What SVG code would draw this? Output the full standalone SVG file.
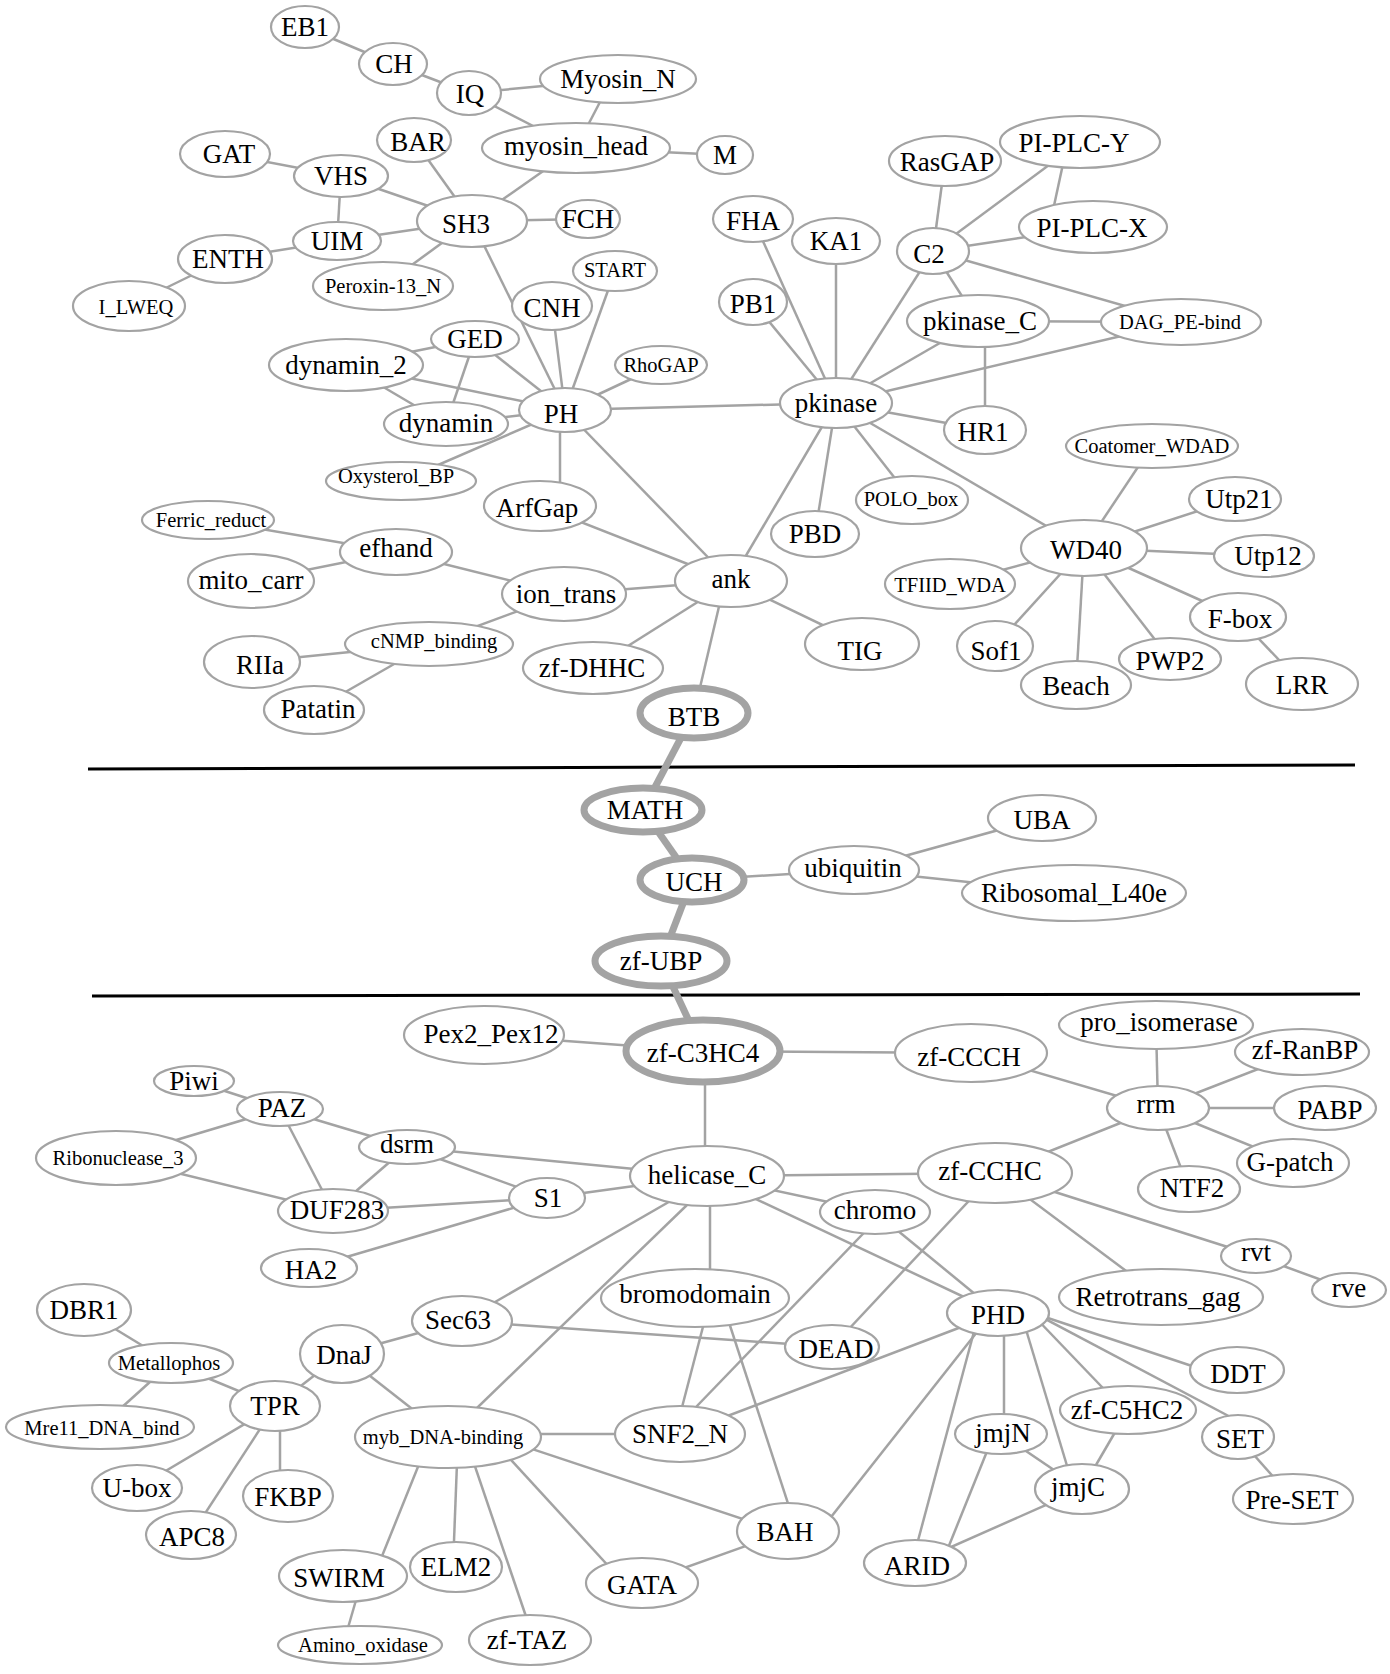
<svg xmlns="http://www.w3.org/2000/svg" width="1390" height="1674" viewBox="0 0 1390 1674">
<style>
.bg{fill:#fff}
.n ellipse{fill:#fff;stroke:#a3a3a3;stroke-width:2.2}
.k ellipse{stroke-width:7}
.n text{font-family:"Liberation Serif","Times New Roman",serif;font-size:27px;fill:#000;text-anchor:middle;dominant-baseline:central}
.n text.sm{font-size:20.5px}
#edges line{stroke:#a3a3a3;stroke-width:2.5;fill:none}
#edges line.thick{stroke-width:7}
#separators line{stroke:#000;stroke-width:3}
</style>
<rect class="bg" x="0" y="0" width="1390" height="1674"/>
<g id="separators">
<line x1="88" y1="769" x2="1355" y2="765"/>
<line x1="92" y1="996" x2="1360" y2="994"/>
</g>
<g id="edges">
<line x1="305" y1="27" x2="393" y2="64"/>
<line x1="393" y1="64" x2="469" y2="93"/>
<line x1="469" y1="93" x2="618" y2="79"/>
<line x1="469" y1="93" x2="576" y2="148"/>
<line x1="612" y1="79" x2="576" y2="148"/>
<line x1="576" y1="148" x2="725" y2="155"/>
<line x1="576" y1="148" x2="472" y2="221"/>
<line x1="225" y1="154" x2="341" y2="176"/>
<line x1="341" y1="176" x2="472" y2="221"/>
<line x1="341" y1="176" x2="337" y2="241"/>
<line x1="337" y1="241" x2="472" y2="221"/>
<line x1="337" y1="241" x2="225" y2="259"/>
<line x1="225" y1="259" x2="129" y2="306"/>
<line x1="414" y1="140" x2="472" y2="221"/>
<line x1="472" y1="221" x2="588" y2="219"/>
<line x1="472" y1="221" x2="383" y2="286"/>
<line x1="472" y1="221" x2="565" y2="410"/>
<line x1="615" y1="271" x2="565" y2="410"/>
<line x1="552" y1="306" x2="565" y2="410"/>
<line x1="475" y1="339" x2="565" y2="410"/>
<line x1="475" y1="339" x2="346" y2="365"/>
<line x1="475" y1="339" x2="446" y2="424"/>
<line x1="346" y1="365" x2="565" y2="410"/>
<line x1="346" y1="365" x2="446" y2="424"/>
<line x1="446" y1="424" x2="565" y2="410"/>
<line x1="661" y1="365" x2="565" y2="410"/>
<line x1="401" y1="481" x2="565" y2="410"/>
<line x1="560" y1="415" x2="560" y2="495"/>
<line x1="565" y1="410" x2="836" y2="403"/>
<line x1="565" y1="410" x2="731" y2="581"/>
<line x1="540" y1="506" x2="731" y2="581"/>
<line x1="208" y1="520" x2="396" y2="552"/>
<line x1="251" y1="581" x2="396" y2="552"/>
<line x1="396" y1="552" x2="564" y2="594"/>
<line x1="564" y1="594" x2="731" y2="581"/>
<line x1="564" y1="594" x2="429" y2="644"/>
<line x1="429" y1="644" x2="252" y2="662"/>
<line x1="429" y1="644" x2="314" y2="710"/>
<line x1="593" y1="668" x2="731" y2="581"/>
<line x1="731" y1="581" x2="862" y2="644"/>
<line x1="725" y1="581" x2="694" y2="713"/>
<line x1="731" y1="581" x2="836" y2="403"/>
<line x1="836" y1="403" x2="753" y2="219"/>
<line x1="836" y1="403" x2="836" y2="241"/>
<line x1="836" y1="403" x2="753" y2="302"/>
<line x1="836" y1="403" x2="933" y2="251"/>
<line x1="836" y1="403" x2="978" y2="321"/>
<line x1="836" y1="403" x2="1181" y2="322"/>
<line x1="836" y1="403" x2="985" y2="430"/>
<line x1="836" y1="403" x2="912" y2="500"/>
<line x1="836" y1="403" x2="815" y2="534"/>
<line x1="836" y1="403" x2="1084" y2="548"/>
<line x1="933" y1="251" x2="945" y2="161"/>
<line x1="933" y1="251" x2="1080" y2="142"/>
<line x1="933" y1="251" x2="1093" y2="227"/>
<line x1="1066" y1="150" x2="1052" y2="215"/>
<line x1="933" y1="251" x2="978" y2="321"/>
<line x1="933" y1="251" x2="1181" y2="322"/>
<line x1="978" y1="321" x2="1181" y2="322"/>
<line x1="985" y1="321" x2="985" y2="430"/>
<line x1="1084" y1="548" x2="1152" y2="446"/>
<line x1="1084" y1="548" x2="1235" y2="499"/>
<line x1="1084" y1="548" x2="1264" y2="556"/>
<line x1="1084" y1="548" x2="950" y2="584"/>
<line x1="1084" y1="548" x2="995" y2="646"/>
<line x1="1084" y1="548" x2="1076" y2="685"/>
<line x1="1084" y1="548" x2="1170" y2="659"/>
<line x1="1084" y1="548" x2="1238" y2="617"/>
<line x1="1238" y1="617" x2="1302" y2="684"/>
<line class="thick" x1="694" y1="713" x2="643" y2="810"/>
<line class="thick" x1="643" y1="810" x2="692" y2="880"/>
<line class="thick" x1="692" y1="880" x2="661" y2="961"/>
<line class="thick" x1="661" y1="961" x2="703" y2="1051"/>
<line x1="692" y1="880" x2="854" y2="870"/>
<line x1="854" y1="870" x2="1042" y2="818"/>
<line x1="854" y1="870" x2="1074" y2="893"/>
<line x1="484" y1="1035" x2="703" y2="1051"/>
<line x1="703" y1="1051" x2="971" y2="1053"/>
<line x1="705" y1="1051" x2="705" y2="1176"/>
<line x1="971" y1="1053" x2="1158" y2="1108"/>
<line x1="1156" y1="1025" x2="1158" y2="1108"/>
<line x1="1302" y1="1052" x2="1158" y2="1108"/>
<line x1="1158" y1="1108" x2="1325" y2="1108"/>
<line x1="1158" y1="1108" x2="1293" y2="1163"/>
<line x1="1158" y1="1108" x2="1189" y2="1189"/>
<line x1="1158" y1="1108" x2="995" y2="1173"/>
<line x1="707" y1="1176" x2="995" y2="1173"/>
<line x1="707" y1="1176" x2="875" y2="1212"/>
<line x1="707" y1="1176" x2="998" y2="1313"/>
<line x1="710" y1="1176" x2="710" y2="1298"/>
<line x1="707" y1="1176" x2="547" y2="1198"/>
<line x1="707" y1="1176" x2="407" y2="1147"/>
<line x1="700" y1="1184" x2="462" y2="1321"/>
<line x1="717" y1="1176" x2="447" y2="1437"/>
<line x1="194" y1="1081" x2="280" y2="1109"/>
<line x1="280" y1="1109" x2="116" y2="1158"/>
<line x1="280" y1="1109" x2="333" y2="1211"/>
<line x1="280" y1="1109" x2="407" y2="1147"/>
<line x1="116" y1="1158" x2="333" y2="1211"/>
<line x1="407" y1="1147" x2="333" y2="1211"/>
<line x1="407" y1="1147" x2="547" y2="1198"/>
<line x1="333" y1="1211" x2="547" y2="1198"/>
<line x1="309" y1="1268" x2="547" y2="1198"/>
<line x1="995" y1="1173" x2="832" y2="1347"/>
<line x1="995" y1="1173" x2="1161" y2="1297"/>
<line x1="995" y1="1173" x2="1256" y2="1256"/>
<line x1="1256" y1="1256" x2="1349" y2="1290"/>
<line x1="875" y1="1212" x2="998" y2="1313"/>
<line x1="884" y1="1212" x2="670" y2="1434"/>
<line x1="710" y1="1300" x2="675" y2="1434"/>
<line x1="721" y1="1298" x2="797" y2="1531"/>
<line x1="462" y1="1321" x2="832" y2="1347"/>
<line x1="462" y1="1321" x2="342" y2="1354"/>
<line x1="342" y1="1354" x2="275" y2="1406"/>
<line x1="342" y1="1354" x2="448" y2="1437"/>
<line x1="84" y1="1310" x2="171" y2="1363"/>
<line x1="171" y1="1363" x2="275" y2="1406"/>
<line x1="171" y1="1363" x2="100" y2="1427"/>
<line x1="275" y1="1406" x2="137" y2="1488"/>
<line x1="275" y1="1406" x2="191" y2="1535"/>
<line x1="280" y1="1406" x2="280" y2="1496"/>
<line x1="448" y1="1434" x2="680" y2="1434"/>
<line x1="460" y1="1425" x2="788" y2="1534"/>
<line x1="430" y1="1437" x2="374" y2="1576"/>
<line x1="458" y1="1437" x2="453" y2="1567"/>
<line x1="465" y1="1437" x2="534" y2="1640"/>
<line x1="490" y1="1437" x2="624" y2="1583"/>
<line x1="363" y1="1576" x2="343" y2="1645"/>
<line x1="642" y1="1583" x2="788" y2="1531"/>
<line x1="998" y1="1313" x2="680" y2="1434"/>
<line x1="992" y1="1313" x2="820" y2="1531"/>
<line x1="979" y1="1313" x2="912" y2="1563"/>
<line x1="1004" y1="1313" x2="1004" y2="1434"/>
<line x1="1021" y1="1313" x2="1074" y2="1489"/>
<line x1="1031" y1="1313" x2="1124" y2="1410"/>
<line x1="1000" y1="1295" x2="1238" y2="1421"/>
<line x1="1000" y1="1302" x2="1237" y2="1381"/>
<line x1="1001" y1="1434" x2="1082" y2="1489"/>
<line x1="994" y1="1434" x2="942" y2="1563"/>
<line x1="1082" y1="1489" x2="915" y2="1563"/>
<line x1="1128" y1="1410" x2="1082" y2="1489"/>
<line x1="1238" y1="1437" x2="1293" y2="1499"/>
</g>
<g id="n-EB1" class="n"><ellipse cx="305" cy="27" rx="34" ry="21"/><text x="305" y="27">EB1</text></g>
<g id="n-CH" class="n"><ellipse cx="393" cy="64" rx="34" ry="21"/><text x="394" y="64">CH</text></g>
<g id="n-IQ" class="n"><ellipse cx="469" cy="93" rx="32" ry="22"/><text x="470" y="94">IQ</text></g>
<g id="n-Myosin_N" class="n"><ellipse cx="618" cy="79" rx="78" ry="24"/><text x="618" y="79">Myosin_N</text></g>
<g id="n-myosin_head" class="n"><ellipse cx="576" cy="148" rx="94" ry="25"/><text x="576" y="146">myosin_head</text></g>
<g id="n-M" class="n"><ellipse cx="725" cy="155" rx="28" ry="19"/><text x="725" y="155">M</text></g>
<g id="n-GAT" class="n"><ellipse cx="225" cy="154" rx="45" ry="23"/><text x="229" y="154">GAT</text></g>
<g id="n-VHS" class="n"><ellipse cx="341" cy="176" rx="47" ry="21"/><text x="341" y="176">VHS</text></g>
<g id="n-BAR" class="n"><ellipse cx="414" cy="140" rx="37" ry="22"/><text x="418" y="142">BAR</text></g>
<g id="n-SH3" class="n"><ellipse cx="472" cy="221" rx="55" ry="26"/><text x="466" y="224">SH3</text></g>
<g id="n-FCH" class="n"><ellipse cx="588" cy="219" rx="32" ry="19"/><text x="588" y="219">FCH</text></g>
<g id="n-UIM" class="n"><ellipse cx="337" cy="241" rx="44" ry="19"/><text x="337" y="241">UIM</text></g>
<g id="n-ENTH" class="n"><ellipse cx="225" cy="259" rx="47" ry="24"/><text x="228" y="259">ENTH</text></g>
<g id="n-Peroxin-13_N" class="n"><ellipse cx="383" cy="286" rx="70" ry="24"/><text class="sm" x="383" y="286">Peroxin-13_N</text></g>
<g id="n-I_LWEQ" class="n"><ellipse cx="129" cy="306" rx="56" ry="25"/><text class="sm" x="136" y="307">I_LWEQ</text></g>
<g id="n-START" class="n"><ellipse cx="615" cy="271" rx="42" ry="20"/><text class="sm" x="615" y="270">START</text></g>
<g id="n-CNH" class="n"><ellipse cx="552" cy="306" rx="40" ry="24"/><text x="552" y="308">CNH</text></g>
<g id="n-GED" class="n"><ellipse cx="475" cy="339" rx="44" ry="18"/><text x="475" y="339">GED</text></g>
<g id="n-RhoGAP" class="n"><ellipse cx="661" cy="365" rx="46" ry="19"/><text class="sm" x="661" y="365">RhoGAP</text></g>
<g id="n-dynamin_2" class="n"><ellipse cx="346" cy="365" rx="77" ry="26"/><text x="346" y="365">dynamin_2</text></g>
<g id="n-dynamin" class="n"><ellipse cx="446" cy="424" rx="62" ry="22"/><text x="446" y="423">dynamin</text></g>
<g id="n-PH" class="n"><ellipse cx="565" cy="410" rx="46" ry="22"/><text x="561" y="414">PH</text></g>
<g id="n-Oxysterol_BP" class="n"><ellipse cx="401" cy="481" rx="75" ry="19"/><text class="sm" x="396" y="476">Oxysterol_BP</text></g>
<g id="n-ArfGap" class="n"><ellipse cx="540" cy="506" rx="56" ry="25"/><text x="537" y="508">ArfGap</text></g>
<g id="n-Ferric_reduct" class="n"><ellipse cx="208" cy="520" rx="66" ry="19"/><text class="sm" x="211" y="520">Ferric_reduct</text></g>
<g id="n-efhand" class="n"><ellipse cx="396" cy="552" rx="56" ry="23"/><text x="396" y="548">efhand</text></g>
<g id="n-mito_carr" class="n"><ellipse cx="251" cy="581" rx="63" ry="27"/><text x="251" y="580">mito_carr</text></g>
<g id="n-ion_trans" class="n"><ellipse cx="564" cy="594" rx="62" ry="27"/><text x="566" y="594">ion_trans</text></g>
<g id="n-cNMP_binding" class="n"><ellipse cx="429" cy="644" rx="84" ry="22"/><text class="sm" x="434" y="641">cNMP_binding</text></g>
<g id="n-RIIa" class="n"><ellipse cx="252" cy="662" rx="48" ry="26"/><text x="260" y="665">RIIa</text></g>
<g id="n-Patatin" class="n"><ellipse cx="314" cy="710" rx="50" ry="24"/><text x="318" y="709">Patatin</text></g>
<g id="n-zf-DHHC" class="n"><ellipse cx="593" cy="668" rx="70" ry="26"/><text x="592" y="668">zf-DHHC</text></g>
<g id="n-ank" class="n"><ellipse cx="731" cy="581" rx="56" ry="26"/><text x="731" y="579">ank</text></g>
<g id="n-TIG" class="n"><ellipse cx="862" cy="644" rx="57" ry="26"/><text x="860" y="651">TIG</text></g>
<g id="n-BTB" class="n k"><ellipse cx="694" cy="713" rx="54" ry="25"/><text x="694" y="717">BTB</text></g>
<g id="n-pkinase" class="n"><ellipse cx="836" cy="403" rx="56" ry="25"/><text x="836" y="403">pkinase</text></g>
<g id="n-FHA" class="n"><ellipse cx="753" cy="219" rx="40" ry="23"/><text x="753" y="221">FHA</text></g>
<g id="n-KA1" class="n"><ellipse cx="836" cy="241" rx="44" ry="23"/><text x="836" y="241">KA1</text></g>
<g id="n-PB1" class="n"><ellipse cx="753" cy="302" rx="34" ry="23"/><text x="753" y="304">PB1</text></g>
<g id="n-C2" class="n"><ellipse cx="933" cy="251" rx="36" ry="23"/><text x="929" y="254">C2</text></g>
<g id="n-RasGAP" class="n"><ellipse cx="945" cy="161" rx="56" ry="25"/><text x="947" y="162">RasGAP</text></g>
<g id="n-PI-PLC-Y" class="n"><ellipse cx="1080" cy="142" rx="80" ry="26"/><text x="1074" y="143">PI-PLC-Y</text></g>
<g id="n-PI-PLC-X" class="n"><ellipse cx="1093" cy="227" rx="74" ry="26"/><text x="1092" y="228">PI-PLC-X</text></g>
<g id="n-pkinase_C" class="n"><ellipse cx="978" cy="321" rx="71" ry="26"/><text x="980" y="321">pkinase_C</text></g>
<g id="n-DAG_PE-bind" class="n"><ellipse cx="1181" cy="322" rx="80" ry="23"/><text class="sm" x="1180" y="322">DAG_PE-bind</text></g>
<g id="n-HR1" class="n"><ellipse cx="985" cy="430" rx="41" ry="24"/><text x="983" y="432">HR1</text></g>
<g id="n-POLO_box" class="n"><ellipse cx="912" cy="500" rx="56" ry="24"/><text class="sm" x="911" y="499">POLO_box</text></g>
<g id="n-PBD" class="n"><ellipse cx="815" cy="534" rx="44" ry="23"/><text x="815" y="534">PBD</text></g>
<g id="n-Coatomer_WDAD" class="n"><ellipse cx="1152" cy="446" rx="86" ry="22"/><text class="sm" x="1152" y="446">Coatomer_WDAD</text></g>
<g id="n-Utp21" class="n"><ellipse cx="1235" cy="499" rx="46" ry="22"/><text x="1239" y="499">Utp21</text></g>
<g id="n-WD40" class="n"><ellipse cx="1084" cy="548" rx="63" ry="28"/><text x="1086" y="550">WD40</text></g>
<g id="n-Utp12" class="n"><ellipse cx="1264" cy="556" rx="50" ry="21"/><text x="1268" y="556">Utp12</text></g>
<g id="n-TFIID_WDA" class="n"><ellipse cx="950" cy="584" rx="65" ry="25"/><text class="sm" x="950" y="585">TFIID_WDA</text></g>
<g id="n-F-box" class="n"><ellipse cx="1238" cy="617" rx="48" ry="24"/><text x="1240" y="619">F-box</text></g>
<g id="n-Sof1" class="n"><ellipse cx="995" cy="646" rx="38" ry="25"/><text x="996" y="651">Sof1</text></g>
<g id="n-PWP2" class="n"><ellipse cx="1170" cy="659" rx="51" ry="21"/><text x="1170" y="661">PWP2</text></g>
<g id="n-Beach" class="n"><ellipse cx="1076" cy="685" rx="55" ry="24"/><text x="1076" y="686">Beach</text></g>
<g id="n-LRR" class="n"><ellipse cx="1302" cy="684" rx="56" ry="26"/><text x="1302" y="685">LRR</text></g>
<g id="n-MATH" class="n k"><ellipse cx="643" cy="810" rx="59" ry="22"/><text x="645" y="810">MATH</text></g>
<g id="n-UCH" class="n k"><ellipse cx="692" cy="880" rx="52" ry="22"/><text x="694" y="882">UCH</text></g>
<g id="n-zf-UBP" class="n k"><ellipse cx="661" cy="961" rx="66" ry="25"/><text x="661" y="961">zf-UBP</text></g>
<g id="n-ubiquitin" class="n"><ellipse cx="854" cy="870" rx="65" ry="24"/><text x="853" y="868">ubiquitin</text></g>
<g id="n-UBA" class="n"><ellipse cx="1042" cy="818" rx="54" ry="23"/><text x="1042" y="820">UBA</text></g>
<g id="n-Ribosomal_L40e" class="n"><ellipse cx="1074" cy="893" rx="112" ry="28"/><text x="1074" y="893">Ribosomal_L40e</text></g>
<g id="n-zf-C3HC4" class="n k"><ellipse cx="703" cy="1051" rx="77" ry="31"/><text x="703" y="1053">zf-C3HC4</text></g>
<g id="n-Pex2_Pex12" class="n"><ellipse cx="484" cy="1035" rx="80" ry="29"/><text x="491" y="1034">Pex2_Pex12</text></g>
<g id="n-zf-CCCH" class="n"><ellipse cx="971" cy="1053" rx="76" ry="29"/><text x="969" y="1057">zf-CCCH</text></g>
<g id="n-pro_isomerase" class="n"><ellipse cx="1156" cy="1025" rx="97" ry="24"/><text x="1159" y="1022">pro_isomerase</text></g>
<g id="n-zf-RanBP" class="n"><ellipse cx="1302" cy="1052" rx="67" ry="23"/><text x="1305" y="1050">zf-RanBP</text></g>
<g id="n-rrm" class="n"><ellipse cx="1158" cy="1108" rx="51" ry="22"/><text x="1156" y="1104">rrm</text></g>
<g id="n-PABP" class="n"><ellipse cx="1325" cy="1108" rx="51" ry="22"/><text x="1330" y="1110">PABP</text></g>
<g id="n-G-patch" class="n"><ellipse cx="1293" cy="1163" rx="56" ry="24"/><text x="1290" y="1162">G-patch</text></g>
<g id="n-NTF2" class="n"><ellipse cx="1189" cy="1189" rx="51" ry="23"/><text x="1192" y="1188">NTF2</text></g>
<g id="n-zf-CCHC" class="n"><ellipse cx="995" cy="1173" rx="77" ry="30"/><text x="990" y="1171">zf-CCHC</text></g>
<g id="n-helicase_C" class="n"><ellipse cx="707" cy="1176" rx="77" ry="30"/><text x="707" y="1175">helicase_C</text></g>
<g id="n-Piwi" class="n"><ellipse cx="194" cy="1081" rx="40" ry="15"/><text x="194" y="1081">Piwi</text></g>
<g id="n-PAZ" class="n"><ellipse cx="280" cy="1109" rx="43" ry="17"/><text x="282" y="1108">PAZ</text></g>
<g id="n-Ribonuclease_3" class="n"><ellipse cx="116" cy="1158" rx="80" ry="27"/><text class="sm" x="118" y="1158">Ribonuclease_3</text></g>
<g id="n-dsrm" class="n"><ellipse cx="407" cy="1147" rx="48" ry="17"/><text x="407" y="1144">dsrm</text></g>
<g id="n-DUF283" class="n"><ellipse cx="333" cy="1211" rx="55" ry="22"/><text x="337" y="1210">DUF283</text></g>
<g id="n-S1" class="n"><ellipse cx="547" cy="1198" rx="38" ry="20"/><text x="548" y="1198">S1</text></g>
<g id="n-HA2" class="n"><ellipse cx="309" cy="1268" rx="48" ry="19"/><text x="311" y="1270">HA2</text></g>
<g id="n-chromo" class="n"><ellipse cx="875" cy="1212" rx="55" ry="22"/><text x="875" y="1210">chromo</text></g>
<g id="n-bromodomain" class="n"><ellipse cx="695" cy="1298" rx="94" ry="29"/><text x="695" y="1294">bromodomain</text></g>
<g id="n-Retrotrans_gag" class="n"><ellipse cx="1161" cy="1297" rx="102" ry="28"/><text x="1158" y="1297">Retrotrans_gag</text></g>
<g id="n-rvt" class="n"><ellipse cx="1256" cy="1256" rx="35" ry="17"/><text x="1256" y="1252">rvt</text></g>
<g id="n-rve" class="n"><ellipse cx="1349" cy="1290" rx="37" ry="17"/><text x="1349" y="1288">rve</text></g>
<g id="n-DBR1" class="n"><ellipse cx="84" cy="1310" rx="47" ry="26"/><text x="84" y="1310">DBR1</text></g>
<g id="n-Sec63" class="n"><ellipse cx="462" cy="1321" rx="50" ry="25"/><text x="458" y="1320">Sec63</text></g>
<g id="n-DnaJ" class="n"><ellipse cx="342" cy="1354" rx="42" ry="29"/><text x="344" y="1355">DnaJ</text></g>
<g id="n-Metallophos" class="n"><ellipse cx="171" cy="1363" rx="62" ry="20"/><text class="sm" x="169" y="1363">Metallophos</text></g>
<g id="n-PHD" class="n"><ellipse cx="998" cy="1313" rx="51" ry="23"/><text x="998" y="1315">PHD</text></g>
<g id="n-DEAD" class="n"><ellipse cx="832" cy="1347" rx="47" ry="22"/><text x="836" y="1349">DEAD</text></g>
<g id="n-TPR" class="n"><ellipse cx="275" cy="1406" rx="45" ry="25"/><text x="275" y="1406">TPR</text></g>
<g id="n-Mre11_DNA_bind" class="n"><ellipse cx="100" cy="1427" rx="94" ry="22"/><text class="sm" x="102" y="1428">Mre11_DNA_bind</text></g>
<g id="n-myb_DNA-binding" class="n"><ellipse cx="448" cy="1437" rx="93" ry="31"/><text class="sm" x="443" y="1437">myb_DNA-binding</text></g>
<g id="n-SNF2_N" class="n"><ellipse cx="680" cy="1434" rx="65" ry="28"/><text x="680" y="1434">SNF2_N</text></g>
<g id="n-DDT" class="n"><ellipse cx="1237" cy="1370" rx="47" ry="23"/><text x="1238" y="1374">DDT</text></g>
<g id="n-zf-C5HC2" class="n"><ellipse cx="1128" cy="1410" rx="68" ry="24"/><text x="1127" y="1410">zf-C5HC2</text></g>
<g id="n-SET" class="n"><ellipse cx="1238" cy="1437" rx="36" ry="22"/><text x="1240" y="1439">SET</text></g>
<g id="n-jmjN" class="n"><ellipse cx="1001" cy="1434" rx="46" ry="20"/><text x="1003" y="1433">jmjN</text></g>
<g id="n-U-box" class="n"><ellipse cx="137" cy="1488" rx="45" ry="23"/><text x="137" y="1488">U-box</text></g>
<g id="n-FKBP" class="n"><ellipse cx="288" cy="1496" rx="45" ry="26"/><text x="288" y="1497">FKBP</text></g>
<g id="n-jmjC" class="n"><ellipse cx="1082" cy="1489" rx="47" ry="25"/><text x="1078" y="1487">jmjC</text></g>
<g id="n-Pre-SET" class="n"><ellipse cx="1293" cy="1499" rx="60" ry="25"/><text x="1292" y="1500">Pre-SET</text></g>
<g id="n-APC8" class="n"><ellipse cx="191" cy="1535" rx="45" ry="24"/><text x="192" y="1537">APC8</text></g>
<g id="n-BAH" class="n"><ellipse cx="788" cy="1531" rx="51" ry="28"/><text x="785" y="1532">BAH</text></g>
<g id="n-ELM2" class="n"><ellipse cx="456" cy="1567" rx="46" ry="25"/><text x="456" y="1567">ELM2</text></g>
<g id="n-SWIRM" class="n"><ellipse cx="343" cy="1576" rx="64" ry="26"/><text x="339" y="1578">SWIRM</text></g>
<g id="n-GATA" class="n"><ellipse cx="642" cy="1583" rx="56" ry="25"/><text x="642" y="1585">GATA</text></g>
<g id="n-ARID" class="n"><ellipse cx="915" cy="1563" rx="51" ry="23"/><text x="917" y="1566">ARID</text></g>
<g id="n-Amino_oxidase" class="n"><ellipse cx="360" cy="1645" rx="82" ry="19"/><text class="sm" x="363" y="1645">Amino_oxidase</text></g>
<g id="n-zf-TAZ" class="n"><ellipse cx="530" cy="1640" rx="61" ry="25"/><text x="527" y="1640">zf-TAZ</text></g>
</svg>
